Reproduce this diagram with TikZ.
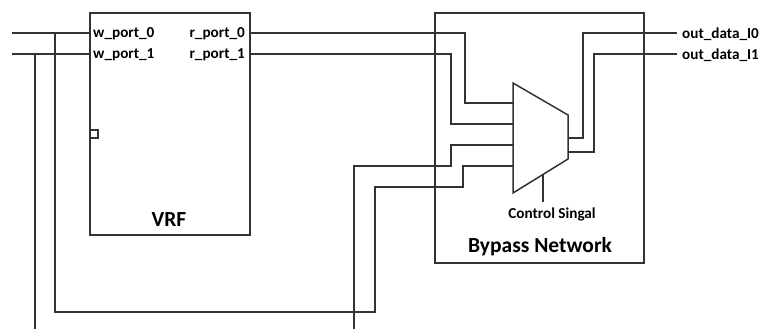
\documentclass[tikz,border=0pt]{standalone}
\usepackage{fontspec}
\setmainfont{Carlito}

\begin{document}
\begin{tikzpicture}[x=1pt,y=-1pt,line cap=butt,line join=miter,
  wire/.style={line width=1.2pt,draw=black!80},
  blk/.style={line width=1.5pt,draw=black!80},
  portlbl/.style={inner sep=0pt,font=\bfseries\fontsize{15.2}{16}\selectfont},
  titlelbl/.style={inner sep=0pt,font=\bfseries\fontsize{21.5}{24}\selectfont}]
\useasboundingbox (0,0) rectangle (761,329);
% boxes
\coordinate (vrfA) at (90,13);
\coordinate (vrfB) at (250,235);
\coordinate (bypA) at (435,13);
\coordinate (bypB) at (644,263);
\draw[blk] (vrfA) rectangle (vrfB);
\draw[blk] (bypA) rectangle (bypB);
\draw[wire] (90,130) rectangle (98,138);
% mux
\coordinate (m1) at (513,83);
\coordinate (m2) at (568,115);
\coordinate (m3) at (568,159);
\coordinate (m4) at (513,193);
\draw[blk] (m1) -- (m2) -- (m3) -- (m4) -- cycle;
\coordinate (in0) at (513,103);
\coordinate (in1) at (513,124);
\coordinate (in2) at (513,145);
\coordinate (in3) at (513,166);
\coordinate (out0) at (568,138);
\coordinate (out1) at (568,152);
\coordinate (sel) at (543,175);
\coordinate (selend) at (543,202);
% port points
\coordinate (wp0) at (90,33);
\coordinate (wp1) at (90,54);
\coordinate (rp0) at (250,33);
\coordinate (rp1) at (250,54);
\coordinate (win0) at (12,33);
\coordinate (win1) at (12,54);
\coordinate (tap0) at (55,33);
\coordinate (tap1) at (35,54);
\coordinate (ext1) at (35,329);
\coordinate (ext2) at (354,329);
\coordinate (od0) at (677,33);
\coordinate (od1) at (677,54);
% wires
\draw[wire] (win0) -- (wp0);
\draw[wire] (win1) -- (wp1);
\draw[wire] (tap1) -- (ext1);
\draw[wire] (tap0) |- (375,312) |- (463,187) |- (in3);
\draw[wire] (rp0) -| (465,103) -- (in0);
\draw[wire] (rp1) -| (451,124) -- (in1);
\draw[wire] (ext2) |- (451,166) |- (in2);
\draw[wire] (out0) -| (583,33) -- (od0);
\draw[wire] (out1) -| (594,54) -- (od1);
\draw[wire] (sel) -- (selend);
% labels
\node[portlbl,anchor=west] (lw0) at (93,34) {w\_port\_0};
\node[portlbl,anchor=west] (lw1) at (93,55) {w\_port\_1};
\node[portlbl,anchor=east] (lr0) at (245,34) {r\_port\_0};
\node[portlbl,anchor=east] (lr1) at (245,55) {r\_port\_1};
\node[portlbl,anchor=west] (lo0) at (682,34) {out\_data\_I0};
\node[portlbl,anchor=west] (lo1) at (682,55) {out\_data\_I1};
\node[portlbl] (lctl) at (552,214) {Control Singal};
\node[titlelbl] (lvrf) at (169,220) {VRF};
\node[titlelbl] (lbyp) at (540,247) {Bypass Network};
\end{tikzpicture}
\end{document}
